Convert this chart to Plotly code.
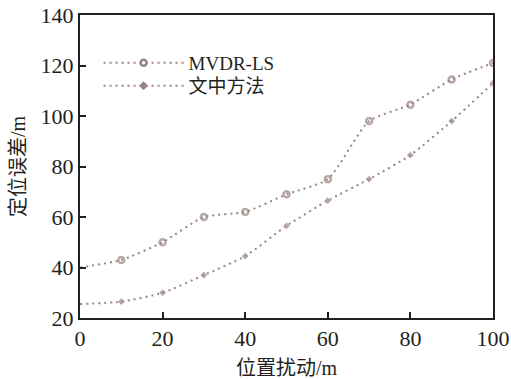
import plotly.graph_objects as go

x_vals = [0, 10, 20, 30, 40, 50, 60, 70, 80, 90, 100]
mvdr_ls = [40, 43, 50, 60, 62, 69, 75, 98, 104.5, 114.5, 121]
proposed = [25.5, 26.5, 30, 37, 44.5, 56.5, 66.5, 75, 84.5, 98, 113]
names = ["MVDR-LS", "文中方法"]
x_title = "位置扰动/m"
y_title = "定位误差/m"

color = "#9b8580"
serif = "Liberation Serif, Noto Sans CJK SC"
msizes = [0] + [6] * (len(x_vals) - 1)
line_style = dict(color=color, width=2, dash="2px,4px", shape="spline", smoothing=0.6)
circle = dict(symbol="circle-open", size=6, color=color, line=dict(width=2.5, color=color))
diamond = dict(symbol="diamond", size=7, color=color)

fig = go.Figure()
fig.add_trace(go.Scatter(
    x=x_vals, y=mvdr_ls, name=names[0], mode="lines+markers", showlegend=False,
    line=line_style, marker=dict(circle, size=msizes), cliponaxis=True,
))
fig.add_trace(go.Scatter(
    x=x_vals, y=proposed, name=names[1], mode="lines+markers", showlegend=False,
    line=line_style, marker=dict(diamond, size=msizes), cliponaxis=True,
))
# legend entries
fig.add_trace(go.Scatter(x=[None], y=[None], name=names[0], mode="lines+markers",
                         line=line_style, marker=circle, legend="legend"))
fig.add_trace(go.Scatter(x=[None], y=[None], name=names[1], mode="lines+markers",
                         line=line_style, marker=diamond, legend="legend2"))

leg_common = dict(xanchor="left", yanchor="middle", bgcolor="rgba(0,0,0,0)",
                  font=dict(size=19, family=serif), itemwidth=80)

fig.update_layout(
    width=511, height=379,
    margin=dict(l=80, r=18, t=15, b=61, autoexpand=False),
    paper_bgcolor="white", plot_bgcolor="white",
    font=dict(family=serif, size=20, color="#231f20"),
    showlegend=True,
    legend=dict(leg_common, x=0.045, y=0.842),
    legend2=dict(leg_common, x=0.045, y=0.766),
)
fig.update_xaxes(
    range=[0, 100], tickvals=[0, 20, 40, 60, 80, 100],
    ticks="inside", ticklen=6, tickwidth=1.5, tickcolor="#231f20",
    showline=True, linecolor="#231f20", linewidth=2, mirror=True,
    showgrid=False, zeroline=False, automargin=False,
    title=dict(text=x_title, standoff=12, font=dict(size=20)),
    tickfont=dict(size=22),
)
fig.update_yaxes(
    range=[20, 140], tickvals=[20, 40, 60, 80, 100, 120, 140],
    ticks="inside", ticklen=6, tickwidth=1.5, tickcolor="#231f20",
    showline=True, linecolor="#231f20", linewidth=2, mirror=True,
    showgrid=False, zeroline=False, automargin=False,
    title=dict(text=y_title, standoff=10, font=dict(size=20)),
    tickfont=dict(size=22),
)

fig.write_html("out.html")
